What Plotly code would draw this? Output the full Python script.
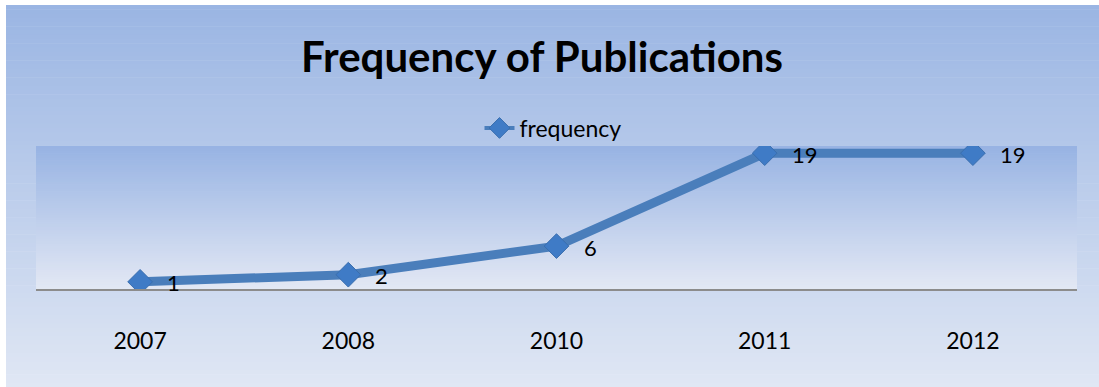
import plotly.graph_objects as go

# ---- data ----
years = ["2007", "2008", "2010", "2011", "2012"]
frequency = [1, 2, 6, 19, 19]
series_name = "frequency"
title_text = "Frequency of Publications"

# ---- layout constants (pixels) ----
W, H = 1099, 387
L, R, T, B = 36, 22, 146, 98
plot_h = H - T - B
plot_w = W - L - R
FONT = "Lato, Carlito, sans-serif"


def lerp(c1, c2, f):
    return "rgb(%d,%d,%d)" % tuple(round(a + (b - a) * f) for a, b in zip(c1, c2))


def px_to_paper_x(px):
    return (px - L) / plot_w


def px_to_paper_y(py):
    return (H - B - py) / plot_h


shapes = []
# outer chart-area gradient (from y=5 to bottom, x from 6 to right edge)
outer_top, outer_bot = (154, 181, 227), (224, 231, 244)
n = 90
y0p, y1p = 5, H
for i in range(n):
    a = y0p + (y1p - y0p) * i / n
    b = y0p + (y1p - y0p) * (i + 1) / n + 0.6
    shapes.append(dict(type="rect", xref="paper", yref="paper",
                       x0=px_to_paper_x(6), x1=px_to_paper_x(W + 2),
                       y0=px_to_paper_y(b), y1=px_to_paper_y(a),
                       fillcolor=lerp(outer_top, outer_bot, (i + 0.5) / n),
                       line=dict(width=0), layer="below"))
# plot-area gradient
plot_top, plot_bot = (151, 179, 227), (227, 232, 244)
m = 60
for i in range(m):
    a = i / m
    b = min(1.0, (i + 1) / m + 0.004)
    shapes.append(dict(type="rect", xref="paper", yref="paper",
                       x0=0, x1=1, y0=1 - b, y1=1 - a,
                       fillcolor=lerp(plot_top, plot_bot, (i + 0.5) / m),
                       line=dict(width=0), layer="below"))

fig = go.Figure()
fig.add_trace(go.Scatter(
    x=years, y=frequency, name=series_name, mode="lines+markers",
    line=dict(color="#4a7ebb", width=9),
    marker=dict(symbol="diamond", size=19, color="#3f7bc6",
                line=dict(color="#3a6eae", width=1)),
    showlegend=False,
))
# legend entry (thinner line like the original legend key)
fig.add_trace(go.Scatter(
    x=[None], y=[None], name=series_name, mode="lines+markers",
    line=dict(color="#4a7ebb", width=4),
    marker=dict(symbol="diamond", size=16, color="#3f7bc6",
                line=dict(color="#3a6eae", width=1)),
    showlegend=True,
))

# data labels (category positions by index)
annotations = [dict(x=i, y=v, xref="x", yref="y", text=str(v), showarrow=False,
                    xanchor="left", yanchor="middle", xshift=25, yshift=-1,
                    font=dict(family=FONT, size=22, color="#000000"))
               for i, v in enumerate(frequency)]

fig.update_layout(
    width=W, height=H,
    margin=dict(l=L, r=R, t=T, b=B),
    paper_bgcolor="white",
    plot_bgcolor="rgba(0,0,0,0)",
    shapes=shapes,
    annotations=annotations,
    title=dict(text="<b>%s</b>" % title_text, x=542 / W, xanchor="center",
               y=1 - 57 / H, yanchor="middle", yref="container",
               font=dict(family=FONT, size=42, color="#000000")),
    showlegend=True,
    legend=dict(orientation="h", x=px_to_paper_x(553), xanchor="center",
                y=px_to_paper_y(128), yanchor="middle",
                bgcolor="rgba(0,0,0,0)",
                font=dict(family=FONT, size=23, color="#000000")),
    xaxis=dict(type="category", range=[-0.5, len(years) - 0.5],
               showgrid=False, zeroline=False,
               showline=True, linecolor="#8c8c8c", linewidth=2,
               ticks="", ticklabelstandoff=30,
               tickfont=dict(family=FONT, size=23, color="#000000")),
    yaxis=dict(range=[0, 20], showgrid=False, zeroline=False, showline=False,
               showticklabels=False, ticks=""),
)

fig.write_html("out.html")
